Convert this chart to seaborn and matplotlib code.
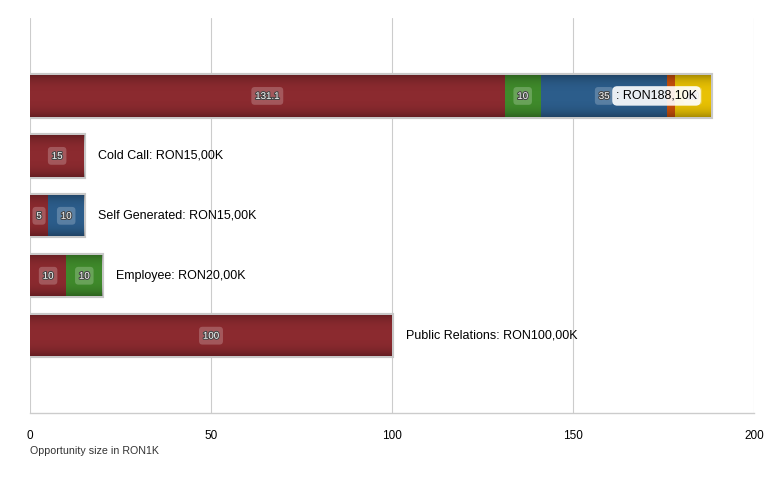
import numpy as np
import seaborn as sns
import matplotlib.pyplot as plt
import matplotlib.patheffects as pe

categories = ["", "Cold Call", "Self Generated", "Employee", "Public Relations"]
series_red = [131.1, 15, 5, 10, 100]
series_green = [10, 0, 0, 10, 0]
series_blue = [35, 0, 10, 0, 0]
series_orange = [2, 0, 0, 0, 0]
series_yellow = [10, 0, 0, 0, 0]
x_ticks = [0, 50, 100, 150, 200]

colors = ["#8b2a2f", "#3f8a2b", "#2c5d8b", "#c8500b", "#e8c104"]
series = [series_red, series_green, series_blue, series_orange, series_yellow]

sns.set_style("white")
plt.rcParams["font.family"] = ["Liberation Sans", "DejaVu Sans"]

fig = plt.figure(figsize=(7.74, 4.8), dpi=100)
ax = fig.add_axes([30 / 774, 1 - 413 / 480, 724 / 774, 395 / 480])

data = np.array(series)
cum = np.cumsum(data, axis=0)
totals = cum[-1]

# total bar first (gray frame), then cumulative layers on top
sns.barplot(x=totals, y=categories, order=categories, orient="h", color="#c8c8c8",
            width=0.69, saturation=1, edgecolor="#c8c8c8", linewidth=3, ax=ax)
frames = list(ax.patches)
for i in range(len(series) - 1, -1, -1):
    sns.barplot(x=cum[i], y=categories, order=categories, orient="h", color=colors[i],
                width=0.69, saturation=1, linewidth=0, ax=ax)

# soft vertical shading, once per bar (darker at top and bottom)
rows = 128
shade = np.abs(np.linspace(-1, 1, rows)) ** 3
shade = np.stack([np.zeros(rows)] * 3 + [shade * 0.28], axis=-1).reshape(rows, 1, 4)
for p in frames:
    x0, y0 = p.get_x(), p.get_y()
    im = ax.imshow(shade, extent=(x0, x0 + p.get_width(), y0 + p.get_height(), y0),
                   aspect="auto", interpolation="bilinear", zorder=3)
    im.set_clip_path(p)

# value labels inside segments
for i in range(len(series)):
    for j in range(len(categories)):
        v = data[i, j]
        if v < 4:
            continue
        left = cum[i, j] - v
        ax.text(left + v / 2, j, f"{v:g}", ha="center", va="center", fontsize=7,
                color="white",
                path_effects=[pe.withStroke(linewidth=1.5, foreground="#444444")],
                bbox=dict(boxstyle="round,pad=0.4,rounding_size=0.35", fc="white",
                          ec="none", alpha=0.22), zorder=5)

# category total labels
for j, name in enumerate(categories):
    txt = f"{name}: RON{totals[j]:.2f}K".replace(".", ",")
    if j == 0:
        ax.annotate(txt, (totals[j], j), xytext=(-10, 0), textcoords="offset points",
                    ha="right", va="center", fontsize=9, color="black",
                    bbox=dict(boxstyle="round,pad=0.3,rounding_size=0.4", fc="white",
                              ec="none", alpha=0.9), zorder=6)
    else:
        ax.annotate(txt, (totals[j], j), xytext=(10, 0), textcoords="offset points",
                    ha="left", va="center", fontsize=9, color="black", zorder=6)

ax.set_xlim(0, 200)
ax.set_ylim(len(categories) - 1 + 1.29, -1.30)
ax.set_xticks(x_ticks)
ax.set_xticklabels([str(t) for t in x_ticks])
ax.tick_params(axis="x", length=0, pad=12, labelsize=8.5, colors="black")
ax.set_yticks([])
ax.set_ylabel("")
ax.grid(axis="x", color="#cccccc", linewidth=0.8)
ax.set_axisbelow(True)
for s in ["top", "right", "left"]:
    ax.spines[s].set_visible(False)
ax.spines["bottom"].set_color("#cccccc")
ax.spines["bottom"].set_linewidth(1.0)
ax.set_xlabel("Opportunity size in RON1K", loc="left", fontsize=7.7, color="#333333", labelpad=3)

fig.savefig("out.png", dpi=100)
